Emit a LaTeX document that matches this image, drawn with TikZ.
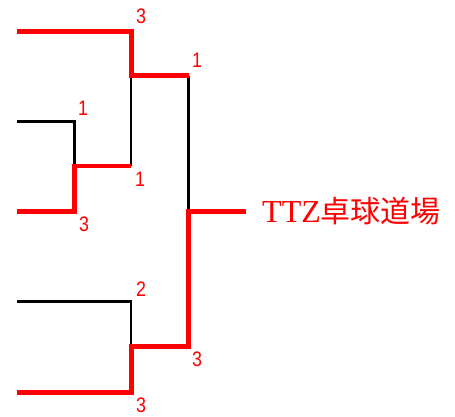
\documentclass[tikz,border=0pt]{standalone}
\usepackage{fontspec}
\setmainfont{Liberation Serif}
\newfontfamily\cjk{Noto Sans CJK JP}
\newfontfamily\numfont[FakeStretch=0.85]{Liberation Sans}
\begin{document}
\begin{tikzpicture}[x=1pt,y=-1pt,
  win/.style={draw=red,line width=5pt,line cap=butt,line join=miter},
  winthin/.style={draw=red,line width=4pt,line cap=butt},
  lose/.style={draw=black,line width=2.3pt,line cap=butt,line join=miter},
  score/.style={text=red,inner sep=0pt,font=\numfont\fontsize{21}{21}\selectfont}]
\useasboundingbox (0,0) rectangle (455,416);
% round 1 endpoints
\coordinate (p1) at (17,31);
\coordinate (p2) at (17,121.5);
\coordinate (p3) at (17,211.5);
\coordinate (p4) at (17,301.5);
\coordinate (p5) at (17,392);
% corners
\coordinate (a1) at (131,31);
\coordinate (a2) at (131,75.5);
\coordinate (b1) at (74.5,121.5);
\coordinate (b2) at (74.5,166);
\coordinate (b3) at (74.5,211.5);
\coordinate (b0) at (72,166);
\coordinate (c1) at (131,166);
\coordinate (d1) at (188.5,75.5);
\coordinate (d2) at (188.5,211);
\coordinate (d3) at (188.5,346.5);
\coordinate (e1) at (131,301.5);
\coordinate (e2) at (131,346.5);
\coordinate (e3) at (131,392);
\coordinate (f1) at (246,211);
% losing lines
\draw[lose] (p2) -- (b1) -- (b2);
\draw[lose] (a2) -- (c1);
\draw[lose] (d1) -- (d2);
\draw[lose] (p4) -- (e1) -- (e2);
% winning lines
\draw[win] (p1) -- (a1) -- (a2) -- (d1);
\draw[win] (p3) -- (b3) -- (b2);
\draw[winthin] (b0) -- (c1);
\draw[win] (p5) -- (e3) -- (e2) -- (d3) -- (d2) -- (f1);
% scores
\node[score] (s1) at (141,16) {3};
\node[score] (s2) at (197,60) {1};
\node[score] (s3) at (83,108) {1};
\node[score] (s4) at (140,179) {1};
\node[score] (s5) at (84,224) {3};
\node[score] (s6) at (141,289) {2};
\node[score] (s7) at (197,359) {3};
\node[score] (s8) at (141,405) {3};
% winner
\node[anchor=base west,inner sep=0pt,text=red,font=\fontsize{32}{32}\selectfont] (w) at (262,222) {TTZ{\cjk\fontsize{30}{30}\selectfont 卓球道場}};
\end{tikzpicture}
\end{document}
